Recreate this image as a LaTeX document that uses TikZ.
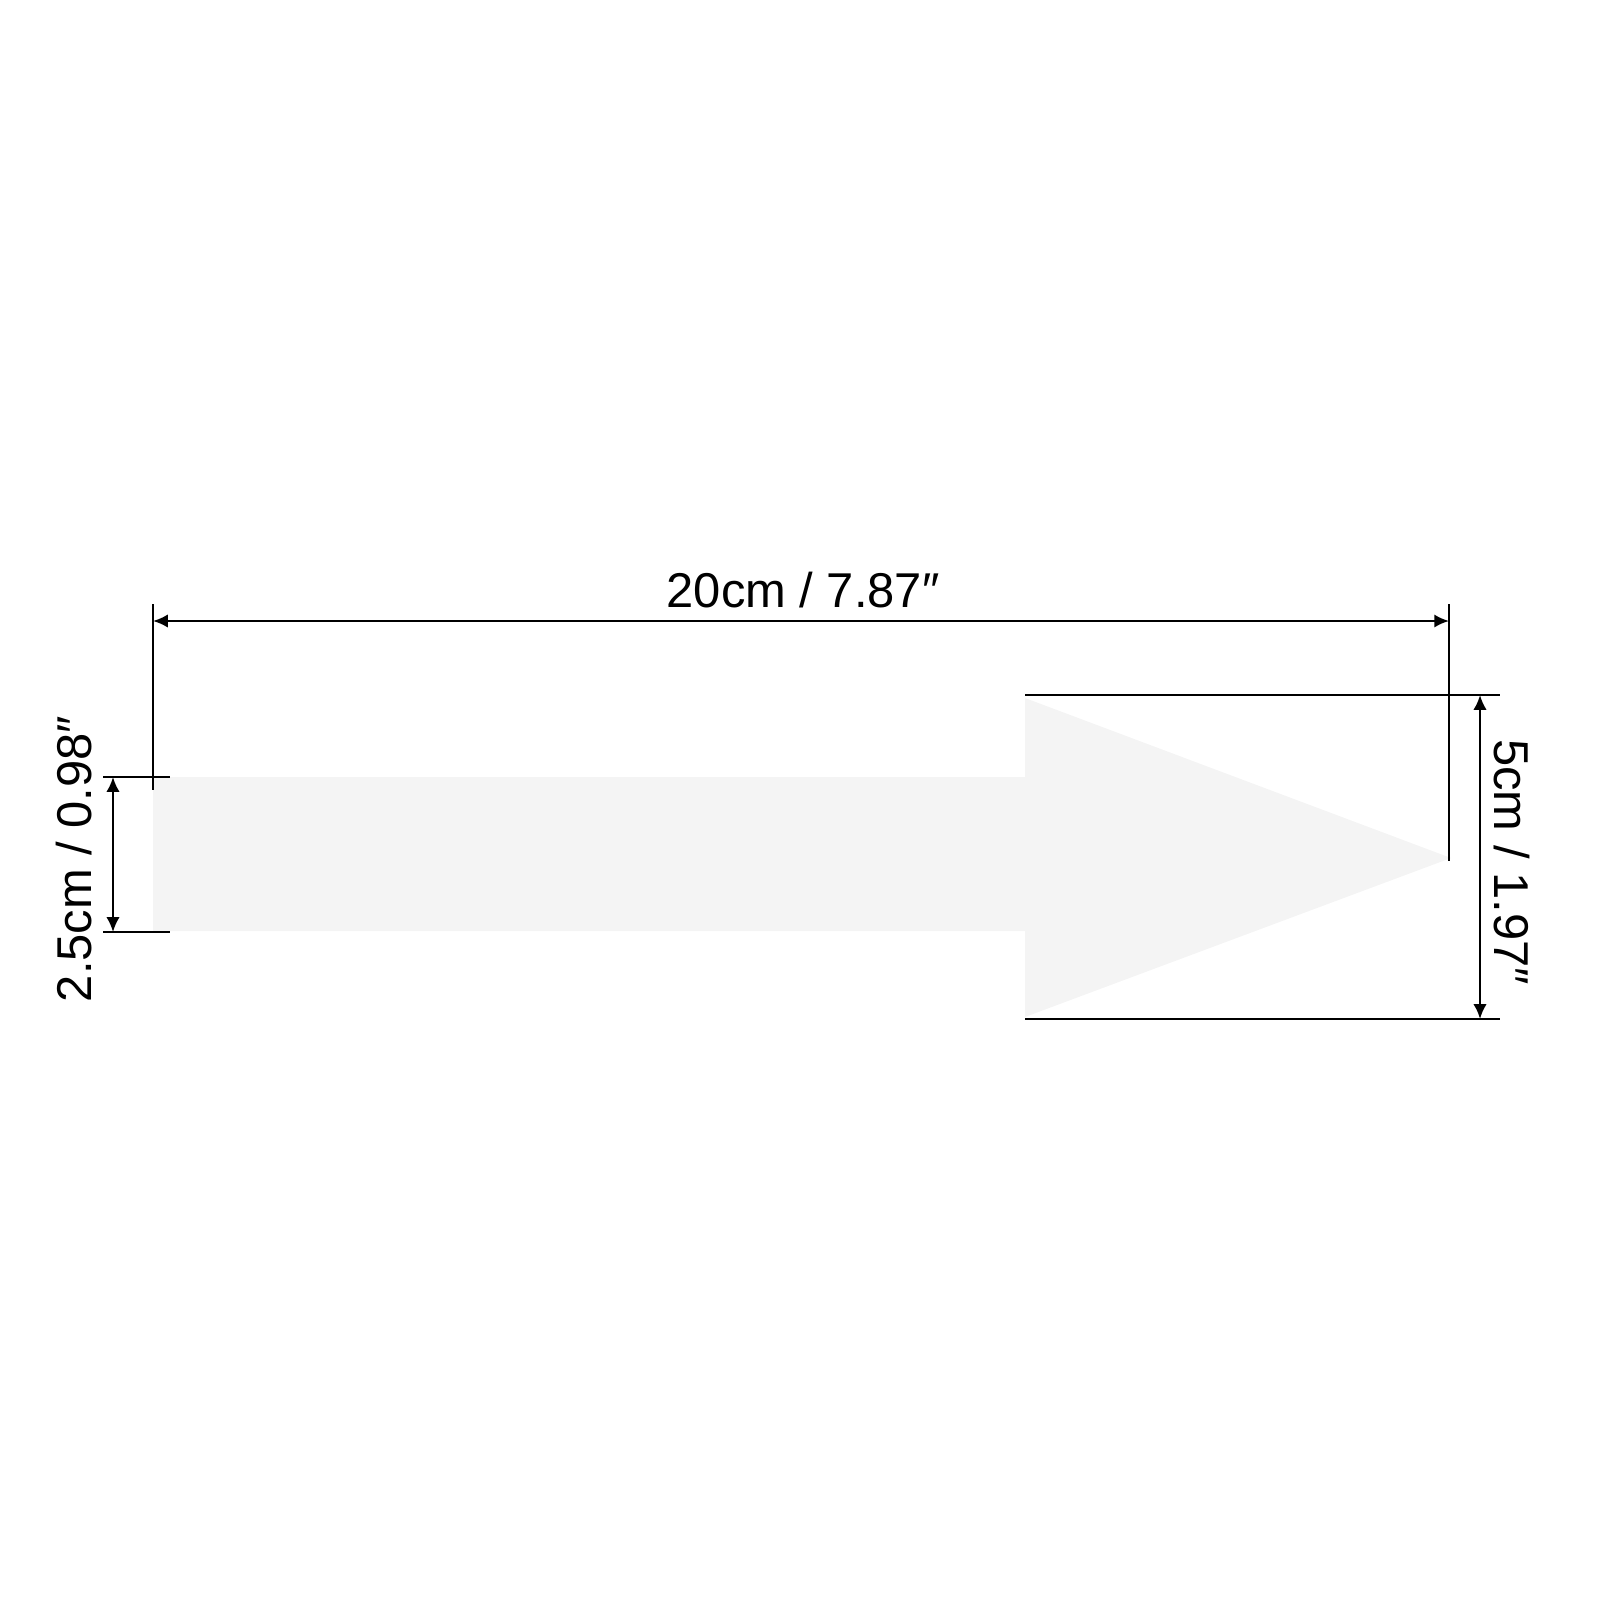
\documentclass[tikz,border=0pt]{standalone}
\usepackage{fontspec}
\setmainfont{Liberation Sans}
\usetikzlibrary{arrows.meta}
\definecolor{ink}{HTML}{000000}
\definecolor{sheet}{HTML}{F4F4F4}
\tikzset{
  dim/.style={draw=ink, line width=0.7pt, {Latex[length=4.2pt,width=3.8pt]}-{Latex[length=4.2pt,width=3.8pt]}},
  ext/.style={draw=ink, line width=0.7pt},
  lab/.style={text=ink, font=\fontsize{13.9}{16}\selectfont, inner sep=0pt},
}
\begin{document}
\begin{tikzpicture}[x=0.01cm,y=-0.01cm]
  \useasboundingbox (0,0) rectangle (1600,1600);
  % arrow sheet
  \coordinate (tail1) at (153,777);
  \coordinate (tail2) at (153,931);
  \coordinate (neck1) at (1025,777);
  \coordinate (neck2) at (1025,931);
  \coordinate (barb1) at (1025,698);
  \coordinate (barb2) at (1025,1017);
  \coordinate (tip) at (1451,858);
  \fill[sheet] (tail1)--(neck1)--(barb1)--(tip)--(barb2)--(neck2)--(tail2)--cycle;
  % length
  \coordinate (lx1) at (153,604);
  \coordinate (lx2) at (153,790);
  \coordinate (rx1) at (1449,604);
  \coordinate (rx2) at (1449,861);
  \coordinate (la) at (153,621);
  \coordinate (ra) at (1449,621);
  \draw[ext] (lx1)--(lx2);
  \draw[ext] (rx1)--(rx2);
  \draw[dim] (la)--(ra);
  \node[lab,anchor=base] (len) at (803,607) {20cm / 7.87″};
  % shaft width
  \coordinate (st1) at (103,777);
  \coordinate (st2) at (170,777);
  \coordinate (sb1) at (103,932);
  \coordinate (sb2) at (170,932);
  \coordinate (sa1) at (113,777);
  \coordinate (sa2) at (113,932);
  \draw[ext] (st1)--(st2);
  \draw[ext] (sb1)--(sb2);
  \draw[dim] (sa1)--(sa2);
  \node[lab,rotate=90] (shaft) at (74,859) {2.5cm / 0.98″};
  % head width
  \coordinate (ht1) at (1025,695);
  \coordinate (ht2) at (1500,695);
  \coordinate (hb1) at (1025,1019);
  \coordinate (hb2) at (1500,1019);
  \coordinate (ha1) at (1480,695);
  \coordinate (ha2) at (1480,1019);
  \draw[ext] (ht1)--(ht2);
  \draw[ext] (hb1)--(hb2);
  \draw[dim] (ha1)--(ha2);
  \node[lab,rotate=-90] (head) at (1512,862) {5cm / 1.97″};
\end{tikzpicture}
\end{document}
